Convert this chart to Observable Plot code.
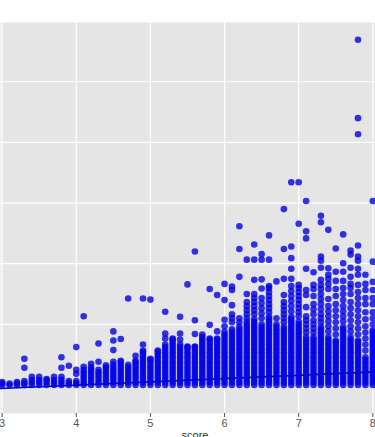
<!DOCTYPE html>
<html><head><meta charset="utf-8">
<script src="https://cdn.jsdelivr.net/npm/d3@7"></script>
<script src="https://cdn.jsdelivr.net/npm/@observablehq/plot@0.6"></script>
<style>html,body{margin:0;padding:0;background:#fff;overflow:hidden}svg{display:block}</style>
</head><body><div id="chart"></div>
<script>
const scores = [3.0,3.1,3.2,3.3,3.4,3.5,3.6,3.7,3.8,3.9,4.0,4.1,4.2,4.3,4.4,4.5,4.6,4.7,4.8,4.9,5.0,5.1,5.2,5.3,5.4,5.5,5.6,5.7,5.8,5.9,6.0,6.1,6.2,6.3,6.4,6.5,6.6,6.7,6.8,6.9,7.0,7.1,7.2,7.3,7.4,7.5,7.6,7.7,7.8,7.9,8.0];
const votes = [
  [0,1.5,3],
  [0,1.5],
  [0,1.5,3],
  [0,2,4,17,26],
  [0,2.5,5,8],
  [0,2.5,5,8],
  [0,2.5,5,6],
  [0,2.5,5,8],
  [0,2.5,5,8,17,27.5],
  [0,2,4,19],
  [0,2,4,11,15,37.5],
  [0,2.5,5,7.5,10,12.5,15,18,68],
  [0,2.5,5,7.5,10,12.5,15,17.5,21],
  [0,2.5,5,7.5,10,12.5,15,23,41],
  [0,2.5,5,7.5,10,12.5,15,17.5,19.5],
  [0,2.5,5,7.5,10,12.5,15,17.5,20,23,34.5,44,53],
  [0,2.5,5,7.5,10,12.5,15,17.5,20,22.5,24,45.5],
  [0,2.5,5,7.5,10,12.5,15,17.5,20,85.5],
  [0,2.5,5,7.5,10,12.5,15,17.5,20,22.5,24,29],
  [0,2.5,5,7.5,10,12.5,15,17.5,20,22.5,25,27.5,30,32.5,34,40,85.5],
  [0,2.5,5,7.5,10,12.5,15,17.5,20,22.5,25,26,84.5],
  [0,2.5,5,7.5,10,12.5,15,17.5,20,22.5,25,27.5,30,32.5,34],
  [0,2.5,5,7.5,10,12.5,15,17.5,20,22.5,25,27.5,30,32.5,35,37.5,40,46,51,72.5],
  [0,2.5,5,7.5,10,12.5,15,17.5,20,22.5,25,27.5,30,32.5,35,37.5,40,42.5,45,46],
  [0,2.5,5,7.5,10,12.5,15,17.5,20,22.5,25,27.5,30,32.5,35,37.5,40,45,51,67.5],
  [0,2.5,5,7.5,10,12.5,15,17.5,20,22.5,25,27.5,30,32.5,35,37.5,38,99.5],
  [0,2.5,5,7.5,10,12.5,15,17.5,20,22.5,25,27.5,30,32.5,35,37.5,38,50.5,64,132],
  [0,2.5,5,7.5,10,12.5,15,17.5,20,22.5,25,27.5,30,32.5,35,37.5,40,42.5,45,47.5,50],
  [0,2.5,5,7.5,10,12.5,15,17.5,20,22.5,25,27.5,30,32.5,35,37.5,40,42.5,45,46,59.5,95],
  [0,2.5,5,7.5,10,12.5,15,17.5,20,22.5,25,27.5,30,32.5,35,37.5,40,42.5,45,46,53,89],
  [0,2.5,5,7.5,10,12.5,15,17.5,20,22.5,25,27.5,30,32.5,35,37.5,40,42.5,45,47.5,50,52.5,58,64.5,84,100],
  [0,2.5,5,7.5,10,12.5,15,17.5,20,22.5,25,27.5,30,32.5,35,37.5,40,42.5,45,47.5,50,52.5,55,62,66,70,79,94,97.5],
  [0,2.5,5,7.5,10,12.5,15,17.5,20,22.5,25,27.5,30,32.5,35,37.5,40,42.5,45,47.5,50,52.5,55,57.5,62,66,107,134.5,157],
  [0,2.5,5,7.5,10,12.5,15,17.5,20,22.5,25,27.5,30,32.5,35,37.5,40,42.5,45,47.5,50,52.5,55,57.5,60,62.5,66,70,74,78,82,90,124],
  [0,2.5,5,7.5,10,12.5,15,17.5,20,22.5,25,27.5,30,32.5,35,37.5,40,42.5,45,47.5,50,52.5,55,57.5,60,62.5,65,70,74,78,82,86,90,104,124,139],
  [0,2.5,5,7.5,10,12.5,15,17.5,20,22.5,25,27.5,30,32.5,35,37.5,40,42.5,45,47.5,50,52.5,55,57.5,60,66,71,76,81,86,95.5,104.5,124,129.5],
  [0,2.5,5,7.5,10,12.5,15,17.5,20,22.5,25,27.5,30,32.5,35,37.5,40,42.5,45,47.5,50,52.5,55,57.5,60,62.5,65,67.5,72,76,80,84,88,92,96,98,124,148],
  [0,2.5,5,7.5,10,12.5,15,17.5,20,22.5,25,27.5,30,32.5,35,37.5,40,42.5,45,47.5,50,52.5,55,57.5,60,66,102.5],
  [0,2.5,5,7.5,10,12.5,15,17.5,20,22.5,25,27.5,30,32.5,35,37.5,40,42.5,45,47.5,50,52.5,55,57.5,62,66,70,74,78,82,89,105,134.5,174],
  [0,2.5,5,7.5,10,12.5,15,17.5,20,22.5,25,27.5,30,32.5,35,37.5,40,42.5,45,47.5,50,52.5,55,57.5,60,62.5,65,67.5,73,78,83,88,93,98,105,115,125.5,137,200.5],
  [0,2.5,5,7.5,10,12.5,15,17.5,20,22.5,25,27.5,30,32.5,35,37.5,40,42.5,45,47.5,50,52.5,55,57.5,60,62.5,68,72,76,80,84,88,92,96,99,159.5,200.5],
  [0,2.5,5,7.5,10,12.5,15,17.5,20,22.5,25,27.5,30,32.5,35,37.5,40,42.5,45,47.5,52,56,60,64,68,77,89,94,115,145,152,182],
  [0,2.5,5,7.5,10,12.5,15,17.5,20,22.5,25,27.5,30,32.5,35,37.5,40,42.5,45,47.5,52,56,60,64,70,75,80,88,95,99,111.5],
  [0,2.5,5,7.5,10,12.5,15,17.5,20,22.5,25,27.5,30,32.5,35,37.5,40,42.5,45,47.5,50,52.5,55,57.5,62,66,70,75,80,85,90,95,99,104,116,123,127,161,167.5],
  [0,2.5,5,7.5,10,12.5,15,17.5,20,22.5,25,27.5,30,32.5,35,37.5,40,42.5,45,47.5,53,58,63,68,73,78,85,95,100,105,109,115.5,153.5],
  [0,2.5,5,7.5,10,12.5,15,17.5,20,22.5,25,27.5,30,32.5,35,37.5,40,42.5,44,50,56,62,68,74,80,88,95,103,112,135],
  [0,2.5,5,7.5,10,12.5,15,17.5,20,22.5,25,27.5,30,32.5,35,37.5,40,42.5,45,47.5,50,52.5,55,57.5,63,68,73,78,84,90,96,103,112,120.5,149],
  [0,2.5,5,7.5,10,12.5,15,17.5,20,22.5,25,27.5,30,32.5,35,37.5,40,42.5,45,47.5,53,58,64,70,76,82,90,96,100,107,116,129,133],
  [0,2.5,5,7.5,10,12.5,15,17.5,20,22.5,25,27.5,30,32.5,35,37.5,40,42.5,44,50,56,62,68,74,80,86,92,99,109,115,123,127,138,248,264,341.5],
  [0,2.5,5,7.5,10,12.5,15,17.5,20,22.5,25,27.5,34,40,46,52,58,65,72,80,86,94,100,109],
  [0,2.5,5,7.5,10,12.5,15,17.5,20,22.5,25,27.5,30,32.5,35,37.5,40,42.5,45,47.5,50,52.5,54,60,66,72,80,86,94,102,122,182]
];
const xTicks = [3,4,5,6,7,8];
const yGrid = [0,60,120,180,240,300];
const fitScore = [2.978, 8.036];
const fitValue = [-3.5, 13];

const points = scores.flatMap((s,i) => votes[i].map(v => ({score: s, value: v})));
const fit = fitScore.map((s,i) => ({score: s, value: fitValue[i]}));

const chart = Plot.plot({
  width: 375, height: 437,
  marginTop: 22, marginBottom: 24, marginLeft: 0, marginRight: 0,
  style: {fontFamily: "'Liberation Sans', Arial, sans-serif", fontSize: "11px", background: "#fff", overflow: "hidden"},
  x: {domain: [2.978, 8.036], axis: null},
  y: {domain: [-28.2, 358.6], axis: null},
  marks: [
    Plot.frame({fill: "#e5e5e5", stroke: null}),
    Plot.gridX(xTicks, {stroke: "#fff", strokeOpacity: 1, strokeWidth: 1.2}),
    Plot.gridY(yGrid, {stroke: "#fff", strokeOpacity: 1, strokeWidth: 1.2}),
    Plot.dot(points, {x: "score", y: "value", r: 3.3, fill: "#0000ee", fillOpacity: 0.8, stroke: null, clip: true}),
    Plot.line(fit, {x: "score", y: "value", stroke: "#0000cc", strokeWidth: 1.6, clip: true}),
    Plot.axisX(xTicks, {tickSize: 4, tickPadding: 2, label: null, fontSize: 11, color: "#555"})
  ]
});
d3.select(chart).append("text")
  .attr("x", 195).attr("y", 439)
  .attr("text-anchor", "middle")
  .attr("fill", "#333")
  .style("font-size", "11px")
  .text("score");
document.getElementById("chart").appendChild(chart);
</script>
</body></html>
